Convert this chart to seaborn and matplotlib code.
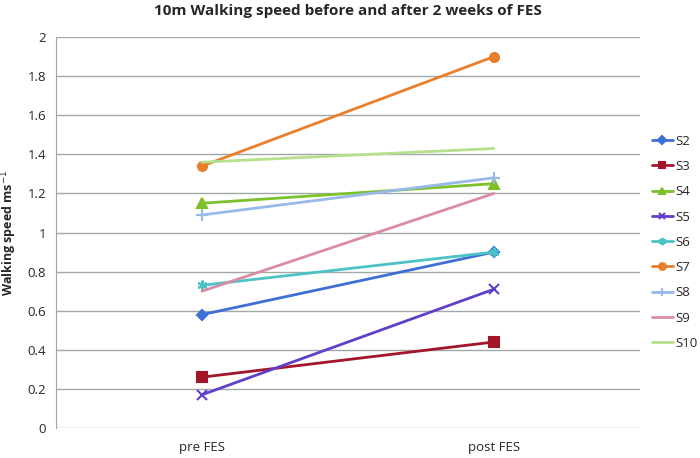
import matplotlib
matplotlib.use("Agg")
import matplotlib.pyplot as plt
import seaborn as sns
import pandas as pd

sns.set_style("white")
plt.rcParams['font.family'] = ['Open Sans', 'DejaVu Sans']

conditions = ["pre FES", "post FES"]
subjects = ["S2", "S3", "S4", "S5", "S6", "S7", "S8", "S9", "S10"]
pre_values = [0.58, 0.26, 1.15, 0.17, 0.73, 1.34, 1.09, 0.70, 1.36]
post_values = [0.90, 0.44, 1.25, 0.71, 0.90, 1.90, 1.28, 1.20, 1.43]
yticks = [0, 0.2, 0.4, 0.6, 0.8, 1, 1.2, 1.4, 1.6, 1.8, 2]

colors = ["#3D6FD6", "#A3152A", "#7CC12A", "#6040C8", "#4DC2C4",
          "#E97E2C", "#98B9E9", "#D98CA6", "#B6E08C"]
markers = ["D", "s", "^", "x", (6, 2, 0), "o", "+", None, None]
msizes = [5, 6.5, 6.5, 6.5, 7, 6.5, 8, 0, 0]

fig = plt.figure(figsize=(7, 4.58), dpi=100)
ax = fig.add_axes([0.08, 0.0655, 0.834, 0.8535])

for i, s in enumerate(subjects):
    df = pd.DataFrame({"cond": conditions, "speed": [pre_values[i], post_values[i]]})
    kw = dict(marker=markers[i], markersize=msizes[i], markeredgewidth=1.5,
              markeredgecolor=colors[i], markerfacecolor=colors[i]) if markers[i] else {}
    sns.lineplot(data=df, x="cond", y="speed", color=colors[i], linewidth=2,
                 ax=ax, sort=False, legend=False, **kw)

lines = ax.get_lines()
for ln in lines:
    ln.set_linestyle("-")

ax.set_xlim(-0.5, 1.5)
ax.set_ylim(0, 2)
ax.set_yticks(yticks)
ax.set_yticklabels([f"{t:g}" for t in yticks])
ax.yaxis.grid(True, color="#A0A8A8", linewidth=1)
ax.set_axisbelow(True)
for sp in ["top", "right", "bottom"]:
    ax.spines[sp].set_visible(False)
ax.spines["left"].set_color("#A0A8A8")
ax.tick_params(axis="y", length=0, labelsize=9.5, pad=7)
ax.tick_params(axis="x", length=0, labelsize=9.5, pad=9)
ax.set_xlabel("")
ax.set_ylabel("Walking speed ms$^{-1}$", fontsize=9, fontweight="bold", labelpad=6)
ax.set_title("10m Walking speed before and after 2 weeks of FES", fontsize=11,
             fontweight="bold", pad=16)

leg = ax.legend(lines, subjects, loc="center left", bbox_to_anchor=(1.0, 0.475),
                frameon=False, fontsize=9.5, handlelength=1.6, labelspacing=0.93,
                handletextpad=0.2, markerscale=0.75)

fig.savefig("out.png", dpi=100)
